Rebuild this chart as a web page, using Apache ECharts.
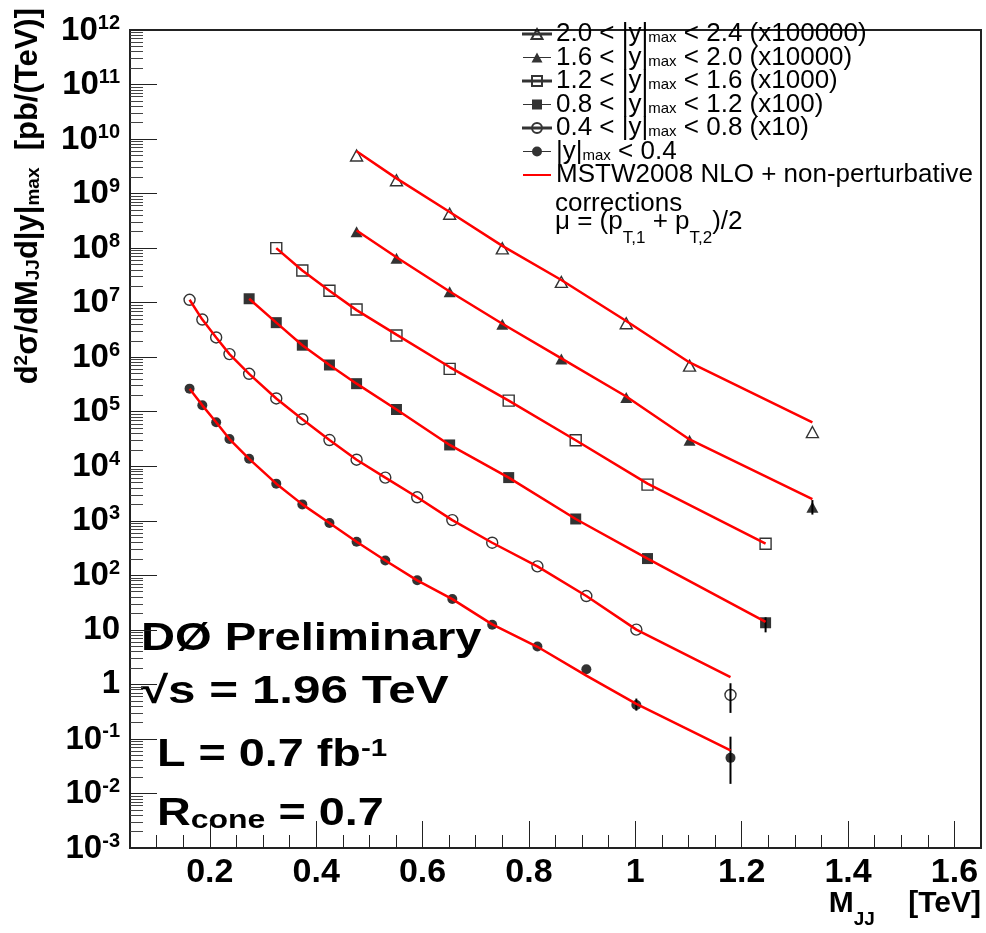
<!DOCTYPE html>
<html>
<head>
<meta charset="utf-8">
<script src="https://cdn.jsdelivr.net/npm/echarts@6/dist/echarts.min.js"></script>
<style>
  html, body { margin: 0; padding: 0; background: #fff; }
  #chart { width: 986px; height: 933px; }
</style>
</head>
<body>
<div id="chart"></div>
<script>
// M_JJ bin centres [TeV] and plotted cross sections (already scaled as in the legend)
const mass04 = [0.162, 0.186, 0.212, 0.237, 0.274, 0.325, 0.374, 0.425, 0.476, 0.530, 0.590, 0.656, 0.731, 0.816, 0.908, 1.002, 1.179]
const data04 = [2.65e5, 1.31e5, 6.4e4, 3.16e4, 1.37e4, 4.8e3, 2.0e3, 912, 413, 187, 81, 36.7, 12.4, 4.96, 1.9, 0.42, 0.045]
const theory04 = [2.65e5, 1.31e5, 6.4e4, 3.16e4, 1.37e4, 4.8e3, 2.0e3, 912, 413, 187, 81, 36.7, 12.6, 4.9, 1.45, 0.44, 0.062]

const mass08 = [0.162, 0.186, 0.212, 0.237, 0.274, 0.325, 0.374, 0.425, 0.476, 0.530, 0.590, 0.656, 0.731, 0.816, 0.908, 1.002, 1.179]
const data08 = [1.13e7, 4.9e6, 2.3e6, 1.14e6, 4.96e5, 1.75e5, 7.3e4, 3.03e4, 1.32e4, 6.2e3, 2.7e3, 1.03e3, 396, 146, 41.7, 10.1, 0.64]
const theory08 = [1.13e7, 4.9e6, 2.3e6, 1.14e6, 4.96e5, 1.75e5, 7.3e4, 3.03e4, 1.32e4, 6.2e3, 2.7e3, 1.03e3, 396, 146, 41.7, 10.1, 1.36]

const mass12 = [0.274, 0.325, 0.374, 0.425, 0.476, 0.551, 0.651, 0.762, 0.888, 1.023, 1.245]
const data12 = [1.18e7, 4.3e6, 1.66e6, 7.2e5, 3.27e5, 1.1e5, 2.46e4, 6.2e3, 1.08e3, 203, 13.5]
const theory12 = [1.18e7, 4.3e6, 1.66e6, 7.2e5, 3.27e5, 1.1e5, 2.46e4, 6.2e3, 1.08e3, 203, 14]

const mass16 = [0.325, 0.374, 0.425, 0.476, 0.551, 0.651, 0.762, 0.888, 1.023, 1.245]
const data16 = [1.0e8, 3.9e7, 1.65e7, 7.5e6, 2.5e6, 6.1e5, 1.6e5, 3.0e4, 4.6e3, 380]
const theory16 = [1.0e8, 3.9e7, 1.65e7, 7.3e6, 2.6e6, 6.6e5, 1.6e5, 3.0e4, 4.8e3, 380]

const mass20 = [0.476, 0.551, 0.651, 0.750, 0.861, 0.983, 1.102, 1.333]
const data20 = [2.0e8, 6.5e7, 1.58e7, 4.0e6, 9.3e5, 1.82e5, 3.0e4, 1.78e3]
const theory20 = [2.1e8, 6.8e7, 1.6e7, 4.1e6, 9.5e5, 1.9e5, 3.1e4, 2.5e3]

const mass24 = [0.476, 0.551, 0.651, 0.750, 0.861, 0.983, 1.102, 1.333]
const data24 = [5.0e9, 1.76e9, 4.27e8, 9.9e7, 2.4e7, 4.2e6, 7.0e5, 4.24e4]
const theory24 = [6.0e9, 1.9e9, 4.6e8, 1.1e8, 2.6e7, 4.6e6, 8.0e5, 6.4e4]

// visible vertical error bars: [mass, low, high]
const errors04 = [[1.002, 0.33, 0.55], [1.179, 0.015, 0.11]]
const errors08 = [[1.179, 0.3, 1.05]]
const errors12 = [[1.245, 9, 17]]
const errors20 = [[1.333, 1.3e3, 2.4e3]]

// axes
const xTickValues = [0.2, 0.4, 0.6, 0.8, 1.0, 1.2, 1.4, 1.6]
const xTickLabels = ['0.2', '0.4', '0.6', '0.8', '1', '1.2', '1.4', '1.6']
const yTickValues = [1e-3, 1e-2, 1e-1, 1, 10, 1e2, 1e3, 1e4, 1e5, 1e6, 1e7, 1e8, 1e9, 1e10, 1e11, 1e12]
const yTickLabels = ['{b|10}{s|-3}', '{b|10}{s|-2}', '{b|10}{s|-1}', '1', '10', '{b|10}{s|2}', '{b|10}{s|3}',
  '{b|10}{s|4}', '{b|10}{s|5}', '{b|10}{s|6}', '{b|10}{s|7}', '{b|10}{s|8}', '{b|10}{s|9}',
  '{b|10}{s|10}', '{b|10}{s|11}', '{b|10}{s|12}']

// legend
const legendNames = ['y24', 'y20', 'y16', 'y12', 'y08', 'y04', 'MSTW2008']
const legendLabels = [
  '2.0 < |y|{sub|max} < 2.4 (x100000)',
  '1.6 < |y|{sub|max} < 2.0 (x10000)',
  '1.2 < |y|{sub|max} < 1.6 (x1000)',
  '0.8 < |y|{sub|max} < 1.2 (x100)',
  '0.4 < |y|{sub|max} < 0.8 (x10)',
  '|y|{sub|max} < 0.4',
  'MSTW2008 NLO + non-perturbative'
]

const FONT = 'Liberation Sans'
const RED = '#ff0000'

// minor ticks of the log axis (2..9 in each decade)
const yMinorTicks = []
for (let e = -3; e < 12; e++) {
  for (let k = 2; k <= 9; k++) yMinorTicks.push(k * Math.pow(10, e))
}

const toPairs = (xs, ys) => xs.map((x, i) => [x, ys[i]])

// legend icons: ROOT style line with the marker in the middle
const lineBar = 'M0,4.5H28V5.5H0Z '
const icons = {
  circle: 'path://' + lineBar + 'M9,5A5,5 0 1,1 19,5A5,5 0 1,1 9,5Z',
  rect: 'path://' + lineBar + 'M9,0H19V10H9Z',
  triangle: 'path://' + lineBar + 'M14,0L19.5,10H8.5Z',
  // plain red line; two specks keep the 10px box so the bar stays thin
  line: 'path://M0,4H28V6H0Z M0,0H0.01V0.01H0Z M0,10H0.01V9.99H0Z'
}

function markerSeries(name, xs, ys, symbol, filled, size) {
  return {
    name,
    type: 'scatter',
    data: toPairs(xs, ys),
    symbol,
    symbolSize: size,
    z: 3,
    itemStyle: filled
      ? { color: '#000' }
      : { color: '#fff', borderColor: '#000', borderWidth: 1.4 },
    emphasis: { disabled: true }
  }
}

function theorySeries(xs, ys) {
  return {
    name: 'MSTW2008',
    type: 'line',
    data: toPairs(xs, ys),
    smooth: false,
    symbol: 'none',
    z: 5,
    lineStyle: { color: RED, width: 2.5 },
    itemStyle: { color: RED },
    emphasis: { disabled: true }
  }
}

function errorSeries(rows) {
  return {
    type: 'custom',
    data: rows,
    z: 4,
    encode: { x: 0, y: [1, 2] },
    renderItem: (params, api) => {
      const hi = api.coord([api.value(0), api.value(2)])
      const lo = api.coord([api.value(0), api.value(1)])
      return {
        type: 'line',
        shape: { x1: hi[0], y1: hi[1], x2: lo[0], y2: lo[1] },
        style: { stroke: '#000', lineWidth: 2 }
      }
    }
  }
}

const chart = echarts.init(document.getElementById('chart'), null, { renderer: 'canvas' })

const option = {
  backgroundColor: '#fff',
  animation: false,
  grid: {
    left: 130, right: 5, top: 18, bottom: 85,
    show: true, borderColor: '#222', borderWidth: 2, backgroundColor: 'transparent'
  },
  xAxis: [
    {
      type: 'value', min: 0.05, max: 1.65, position: 'bottom',
      axisLine: { show: false, onZero: false },
      splitLine: { show: false },
      axisTick: { inside: true, length: 27, customValues: xTickValues, lineStyle: { color: '#222', width: 1 } },
      axisLabel: {
        customValues: xTickValues,
        margin: 8,
        fontFamily: FONT, fontWeight: 'bold', fontSize: 34, color: '#000',
        formatter: v => {
          const i = xTickValues.findIndex(t => Math.abs(t - v) < 1e-6)
          return i >= 0 ? xTickLabels[i] : ''
        }
      }
    },
    {
      // minor ticks every 0.05 TeV
      type: 'value', min: 0.05, max: 1.65, interval: 0.05, position: 'bottom',
      axisLine: { show: false, onZero: false },
      splitLine: { show: false },
      axisTick: { inside: true, length: 13, lineStyle: { color: '#222', width: 1 } },
      axisLabel: { show: false }
    }
  ],
  yAxis: [
    {
      type: 'log', logBase: 10, min: 1e-3, max: 1e12, position: 'left',
      axisLine: { show: false, onZero: false },
      splitLine: { show: false },
      axisTick: { inside: true, length: 27, customValues: yTickValues, lineStyle: { color: '#222', width: 1 } },
      axisLabel: {
        customValues: yTickValues,
        margin: 10,
        fontFamily: FONT, fontWeight: 'bold', fontSize: 33, color: '#000',
        formatter: v => yTickLabels[Math.round(Math.log10(v)) + 3],
        rich: {
          b: { fontFamily: FONT, fontWeight: 'bold', fontSize: 33, lineHeight: 34, padding: [14, 0, 0, 0], verticalAlign: 'bottom' },
          s: { fontFamily: FONT, fontWeight: 'bold', fontSize: 20, lineHeight: 20, verticalAlign: 'top' }
        }
      }
    },
    {
      type: 'log', logBase: 10, min: 1e-3, max: 1e12, position: 'left',
      axisLine: { show: false, onZero: false },
      splitLine: { show: false },
      axisTick: { inside: true, length: 13, customValues: yMinorTicks, lineStyle: { color: '#444', width: 1 } },
      axisLabel: { show: false }
    }
  ],
  legend: {
    orient: 'vertical',
    left: 522, top: 21, padding: 0, itemGap: -2.5,
    itemWidth: 28, itemHeight: 10,
    selectedMode: false,
    textStyle: {
      fontFamily: FONT, fontSize: 26, lineHeight: 23, color: '#000',
      rich: { sub: { fontFamily: FONT, fontSize: 15, lineHeight: 14, verticalAlign: 'bottom', color: '#000' } }
    },
    formatter: n => legendLabels[legendNames.indexOf(n)],
    data: [
      { name: 'y24', icon: icons.triangle },
      { name: 'y20', icon: icons.triangle },
      { name: 'y16', icon: icons.rect },
      { name: 'y12', icon: icons.rect },
      { name: 'y08', icon: icons.circle },
      { name: 'y04', icon: icons.circle },
      { name: 'MSTW2008', icon: icons.line }
    ]
  },
  graphic: [
    {
      type: 'text', x: 28, y: 8, rotation: Math.PI / 2, silent: true,
      style: {
        text: 'd{sup|2}σ/dM{sub|JJ}d|y|{sub|max}  [pb/(TeV)]',
        fontFamily: FONT, fontWeight: 'bold', fontSize: 31, fill: '#000',
        align: 'right', verticalAlign: 'middle', textAlign: 'right', textVerticalAlign: 'middle',
        rich: {
          sup: { fontFamily: FONT, fontWeight: 'bold', fontSize: 19, lineHeight: 19, verticalAlign: 'top' },
          sub: { fontFamily: FONT, fontWeight: 'bold', fontSize: 19, lineHeight: 19, verticalAlign: 'bottom' }
        }
      }
    },
    {
      type: 'text', x: 981, y: 904, silent: true,
      style: {
        text: 'M{sub|JJ}    [TeV]',
        fontFamily: FONT, fontWeight: 'bold', fontSize: 30, fill: '#000',
        align: 'right', verticalAlign: 'middle', textAlign: 'right', textVerticalAlign: 'middle',
        rich: { sub: { fontFamily: FONT, fontWeight: 'bold', fontSize: 19, lineHeight: 19, verticalAlign: 'bottom', padding: [0, 0, -10, 0] } }
      }
    },
    {
      type: 'text', x: 555, y: 204, silent: true,
      style: { text: 'corrections', fontFamily: FONT, fontSize: 26, fill: '#000', verticalAlign: 'middle', textVerticalAlign: 'middle' }
    },
    {
      type: 'text', x: 555, y: 222, silent: true,
      style: {
        text: 'μ = (p{sub|T,1} + p{sub|T,2})/2',
        fontFamily: FONT, fontSize: 26, fill: '#000', verticalAlign: 'middle', textVerticalAlign: 'middle',
        rich: { sub: { fontFamily: FONT, fontSize: 17, lineHeight: 14, verticalAlign: 'bottom', padding: [0, 0, -12, 0] } }
      }
    },
    {
      type: 'text', x: 141, y: 640, scaleX: 1.24, silent: true,
      style: { text: 'DØ Preliminary', fontFamily: FONT, fontWeight: 'bold', fontSize: 38, fill: '#000', verticalAlign: 'middle', textVerticalAlign: 'middle' }
    },
    {
      type: 'text', x: 141, y: 693, scaleX: 1.3, silent: true,
      style: { text: '√s = 1.96 TeV', fontFamily: FONT, fontWeight: 'bold', fontSize: 38, fill: '#000', verticalAlign: 'middle', textVerticalAlign: 'middle' }
    },
    {
      type: 'text', x: 157, y: 756, scaleX: 1.23, silent: true,
      style: {
        text: 'L = 0.7 fb{sup|-1}', fontFamily: FONT, fontWeight: 'bold', fontSize: 38, fill: '#000', verticalAlign: 'middle', textVerticalAlign: 'middle',
        rich: { sup: { fontFamily: FONT, fontWeight: 'bold', fontSize: 24, lineHeight: 24, verticalAlign: 'top', padding: [0, 0, 14, 0] } }
      }
    },
    {
      type: 'text', x: 157, y: 815, scaleX: 1.23, silent: true,
      style: {
        text: 'R{sub|cone} = 0.7', fontFamily: FONT, fontWeight: 'bold', fontSize: 38, fill: '#000', verticalAlign: 'middle', textVerticalAlign: 'middle',
        rich: { sub: { fontFamily: FONT, fontWeight: 'bold', fontSize: 26, lineHeight: 26, verticalAlign: 'bottom', padding: [14, 0, 0, 0] } }
      }
    }
  ],
  series: [
    markerSeries('y24', mass24, data24, 'triangle', false, [12, 11]),
    markerSeries('y20', mass20, data20, 'triangle', true, [12, 11]),
    markerSeries('y16', mass16, data16, 'rect', false, 11),
    markerSeries('y12', mass12, data12, 'rect', true, 11),
    markerSeries('y08', mass08, data08, 'circle', false, 11),
    markerSeries('y04', mass04, data04, 'circle', true, 10),
    theorySeries(mass24, theory24),
    theorySeries(mass20, theory20),
    theorySeries(mass16, theory16),
    theorySeries(mass12, theory12),
    theorySeries(mass08, theory08),
    theorySeries(mass04, theory04),
    errorSeries(errors04),
    errorSeries(errors08),
    errorSeries(errors12),
    errorSeries(errors20)
  ]
}

chart.setOption(option)
window.addEventListener('resize', () => chart.resize())
</script>
</body>
</html>
